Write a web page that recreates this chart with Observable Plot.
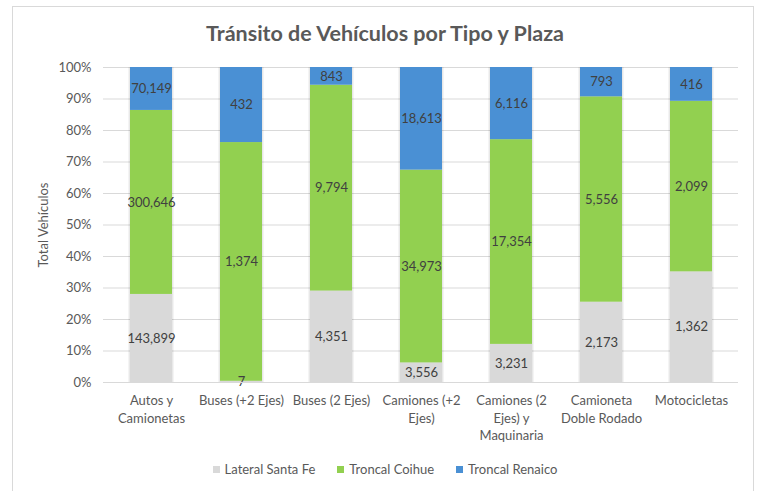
<!DOCTYPE html>
<html>
<head>
<meta charset="utf-8">
<script src="https://cdn.jsdelivr.net/npm/d3@7"></script>
<script src="https://cdn.jsdelivr.net/npm/@observablehq/plot@0.6"></script>
<style>
  html, body { margin: 0; padding: 0; background: #fff; }
  body { width: 760px; height: 491px; position: relative; overflow: hidden; font-family: Lato, "Open Sans", sans-serif; }
  #frame { position: absolute; left: 12px; top: 6px; width: 742px; height: 500px; border: 1.5px solid #d9d9d9; box-sizing: border-box; }
  #title { position: absolute; left: 0; width: 770px; top: 20px; text-align: center; font-size: 21.5px; font-weight: 700; color: #595959; }
  #ytitle { position: absolute; left: 43px; top: 225px; transform: translate(-50%, -50%) rotate(-90deg); font-size: 13px; color: #595959; white-space: nowrap; }
  #legend { position: absolute; left: 0; width: 770px; top: 461px; text-align: center; font-size: 13px; color: #595959; }
  #legend span.item { margin: 0 11px; white-space: nowrap; }
  #legend i { display: inline-block; width: 7px; height: 7px; margin-right: 5px; vertical-align: 1px; }
  #chart { position: absolute; left: 0; top: 0; }
</style>
</head>
<body>
<div id="frame"></div>
<div id="title">Tránsito de Vehículos por Tipo y Plaza</div>
<div id="ytitle">Total Vehículos</div>
<div id="chart"></div>
<div id="legend"></div>
<script>
const categories = ["Autos y Camionetas", "Buses (+2 Ejes)", "Buses (2 Ejes)", "Camiones (+2 Ejes)", "Camiones (2 Ejes) y Maquinaria", "Camioneta Doble Rodado", "Motocicletas"];
const tickLabels = ["Autos y\nCamionetas", "Buses (+2 Ejes)", "Buses (2 Ejes)", "Camiones (+2\nEjes)", "Camiones (2\nEjes) y\nMaquinaria", "Camioneta\nDoble Rodado", "Motocicletas"];
const series = ["Lateral Santa Fe", "Troncal Coihue", "Troncal Renaico"];
const seriesColors = ["#d9d9d9", "#92d050", "#4a90d4"];
const lateralSantaFe = [143899, 7, 4351, 3556, 3231, 2173, 1362];
const troncalCoihue = [300646, 1374, 9794, 34973, 17354, 5556, 2099];
const troncalRenaico = [70149, 432, 843, 18613, 6116, 793, 416];
const yTicks = [0, 0.1, 0.2, 0.3, 0.4, 0.5, 0.6, 0.7, 0.8, 0.9, 1];

const seriesValues = [lateralSantaFe, troncalCoihue, troncalRenaico];
const rows = [];
categories.forEach((c, i) => {
  series.forEach((s, j) => rows.push({cat: c, series: s, value: seriesValues[j][i]}));
});
const fmt = d3.format(",");

const chart = Plot.plot({
  width: 760,
  height: 491,
  marginLeft: 103,
  marginRight: 22,
  marginTop: 67,
  marginBottom: 109,
  style: {fontFamily: "Lato, 'Open Sans', sans-serif", fontSize: "13px", color: "#595959", background: "transparent"},
  x: {domain: categories, paddingInner: 0.537, paddingOuter: 0.264, label: null},
  y: {domain: [0, 1], label: null},
  color: {domain: series, range: seriesColors},
  marks: [
    Plot.gridY(yTicks, {stroke: "#d9d9d9", strokeOpacity: 1, strokeWidth: 1}),
    Plot.barY(rows, Plot.stackY({x: "cat", y: "value", z: "series", offset: "normalize", fill: "#000", fillOpacity: 0.09, insetLeft: -1.5, insetRight: -1.5})),
    Plot.barY(rows, Plot.stackY({x: "cat", y: "value", fill: "series", offset: "normalize"})),
    Plot.text(rows, Plot.stackY({x: "cat", y: "value", z: "series", offset: "normalize", text: d => fmt(d.value), fill: "#404040", fontSize: 13})),
    Plot.axisY({ticks: yTicks, tickFormat: d3.format(".0%"), tickSize: 0, tickPadding: 12, label: null, fill: "#595959", fontSize: 13}),
    Plot.axisX({tickFormat: d => tickLabels[categories.indexOf(d)], tickSize: 0, tickPadding: 10, label: null, fill: "#595959", fontSize: 13, lineHeight: 1.35}),
    Plot.ruleY([0], {stroke: "#d9d9d9", strokeWidth: 1})
  ]
});
document.getElementById("chart").appendChild(chart);

const legend = document.getElementById("legend");
series.forEach((s, j) => {
  const item = document.createElement("span");
  item.className = "item";
  const sw = document.createElement("i");
  sw.style.background = seriesColors[j];
  item.appendChild(sw);
  item.appendChild(document.createTextNode(s));
  legend.appendChild(item);
});
</script>
</body>
</html>
